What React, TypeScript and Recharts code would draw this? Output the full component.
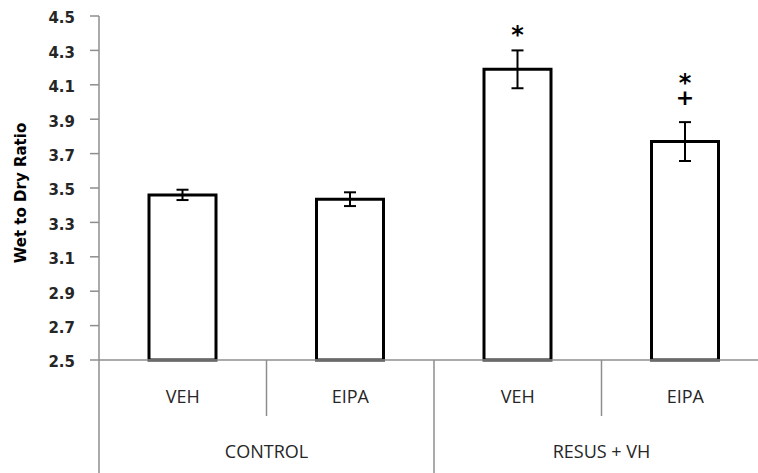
import React from 'react';
import { BarChart, Bar, XAxis, YAxis, ErrorBar, LabelList } from 'recharts';

const treatments = ['VEH', 'EIPA', 'VEH', 'EIPA'];
const groups = ['CONTROL', 'CONTROL', 'RESUS + VH', 'RESUS + VH'];
const wetToDry = [3.46, 3.435, 4.19, 3.77];
const sem = [0.03, 0.04, 0.11, 0.113];
const marks = ['', '', '*', '*+'];
const yTicks = [2.5, 2.7, 2.9, 3.1, 3.3, 3.5, 3.7, 3.9, 4.1, 4.3, 4.5];
const yMin = 2.5;
const yMax = 4.5;

const data = treatments.map((t, i) => ({
  key: i,
  treatment: t,
  group: groups[i],
  ratio: wetToDry[i],
  sem: sem[i],
  mark: marks[i],
}));

const AXIS = '#8e8e8e';
const TEXT = '#262626';
const CAT_FONT = '"Open Sans", sans-serif';

const XTick = (props: any) => {
  const { x, y, payload } = props;
  const i = typeof payload.index === 'number' ? payload.index : Number(payload.value);
  const half = typeof payload.offset === 'number' && payload.offset > 0 ? payload.offset : 83.75;
  const left = x - half;
  const isGroupStart = i === 0 || groups[i] !== groups[i - 1];
  let n = 0;
  if (isGroupStart) {
    let j = i;
    while (j < groups.length && groups[j] === groups[i]) { n++; j++; }
  }
  return (
    <g>
      <line x1={left} x2={left} y1={y} y2={isGroupStart ? y + 130 : y + 56} stroke={AXIS} strokeWidth={1.5} />
      <text x={x} y={y + 43} textAnchor="middle" fontFamily={CAT_FONT} fontSize={18} fill={TEXT}>
        {treatments[i]}
      </text>
      {isGroupStart && (
        <text x={left + n * half} y={y + 98} textAnchor="middle" fontFamily={CAT_FONT} fontSize={18} fill={TEXT}>
          {groups[i]}
        </text>
      )}
    </g>
  );
};

const SigLabel = (props: any) => {
  const { x, y, width, height, value, index } = props;
  if (!value) return null;
  const v = wetToDry[index];
  const e = sem[index];
  const ppu = height / (v - yMin);
  const errTop = y - e * ppu;
  const cx = x + width / 2;
  const chars = String(value).split('').reverse();
  let cy = errTop;
  const spans: any[] = [];
  chars.forEach((c, k) => {
    if (k === 0) cy -= c === '+' ? 25 : 20;
    else cy -= 19;
    spans.push({ c, base: c === '*' ? cy + 13 : cy + 7.5, size: c === '*' ? 24 : 22 });
  });
  spans.reverse();
  return (
    <text textAnchor="middle" fontFamily="DejaVu Sans" fontWeight="bold" fill="#000">
      {spans.map((s, k) => (
        <tspan key={k} x={cx} y={s.base} fontSize={s.size}>{s.c}</tspan>
      ))}
    </text>
  );
};

const YLabel = (props: any) => {
  const { viewBox } = props;
  const cx = viewBox.x + 13;
  const cy = viewBox.y + viewBox.height / 2 + 5;
  return (
    <text x={cx} y={cy} transform={`rotate(-90, ${cx}, ${cy})`} textAnchor="middle" dominantBaseline="central"
      fontFamily="DejaVu Sans" fontWeight="bold" fontSize={15} fill="#000">
      Wet to Dry Ratio
    </text>
  );
};

export default function App() {
  return (
    <div style={{ position: 'fixed', left: 0, top: 0, width: 758, height: 473, overflow: 'hidden', background: '#fff' }}>
      <div style={{ position: 'absolute', left: 8, top: 8 }}>
        <BarChart width={770} height={465} data={data} margin={{ top: 8, right: 9, left: 0, bottom: 0 }}>
          <XAxis
            dataKey="key"
            type="category"
            height={113}
            axisLine={{ stroke: AXIS, strokeWidth: 1.5 }}
            tickLine={false}
            tickSize={0}
            tickMargin={0}
            interval={0}
            tick={<XTick />}
          />
          <YAxis
            type="number"
            width={91}
            domain={[yMin, yMax]}
            ticks={yTicks}
            interval={0}
            tickFormatter={(v: number) => v.toFixed(1)}
            axisLine={{ stroke: AXIS, strokeWidth: 1.5 }}
            tickLine={{ stroke: AXIS, strokeWidth: 1.5 }}
            tickSize={9}
            tickMargin={15}
            tick={{ fontFamily: 'DejaVu Sans', fontWeight: 'bold', fontSize: 15, fill: TEXT, dy: 2 }}
            label={<YLabel />}
          />
          <Bar dataKey="ratio" fill="#fff" stroke="#000" strokeWidth={3} barSize={67} isAnimationActive={false}>
            <ErrorBar dataKey="sem" direction="y" width={6} stroke="#000" strokeWidth={2} isAnimationActive={false} />
            <LabelList dataKey="mark" content={<SigLabel />} />
          </Bar>
        </BarChart>
      </div>
    </div>
  );
}
